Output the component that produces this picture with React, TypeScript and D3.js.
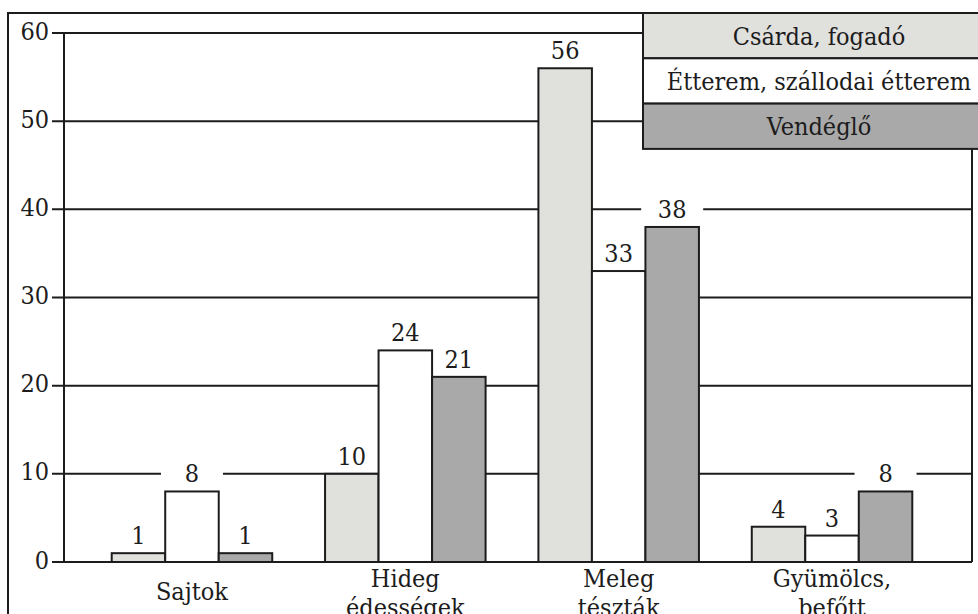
import React from "react";
import * as d3 from "d3";

// Categories (each label may wrap onto two lines)
const categories = ["Sajtok", "Hideg édességek", "Meleg tészták", "Gyümölcs, befőtt"];
const categoryLines = [["Sajtok"], ["Hideg", "édességek"], ["Meleg", "tészták"], ["Gyümölcs,", "befőtt"]];

// Series
const seriesNames = ["Csárda, fogadó", "Étterem, szállodai étterem", "Vendéglő"];
const csardaValues = [1, 10, 56, 4];
const etteremValues = [8, 24, 33, 3];
const vendegloValues = [1, 21, 38, 8];
const seriesColors = ["#e0e0dd", "#ffffff", "#a9a9a9"];

const yTicks = [0, 10, 20, 30, 40, 50, 60];

const W = 978;
const H = 614;
const FONT = "'DejaVu Serif Condensed', 'DejaVu Serif', serif";
const FS = 25;
const INK = "#1c1c1c";

export default function App() {
  const seriesValues = [csardaValues, etteremValues, vendegloValues];

  const plotLeft = 64;
  const plotRight = 972;
  const y = d3.scaleLinear().domain([0, 60]).range([562, 33]);

  const x = d3
    .scaleBand<string>()
    .domain(categories)
    .range([85.3, 938.7])
    .paddingInner(0.2476)
    .paddingOuter(0.1238);

  const xs = d3
    .scaleBand<string>()
    .domain(seriesNames)
    .range([0, x.bandwidth()]);

  const labelGap = 9;
  const boxW = 62;

  const bars: { x: number; w: number; v: number; color: string; key: string }[] = [];
  categories.forEach((c, ci) => {
    seriesNames.forEach((s, si) => {
      bars.push({
        x: (x(c) ?? 0) + (xs(s) ?? 0),
        w: xs.bandwidth(),
        v: seriesValues[si][ci],
        color: seriesColors[si],
        key: `${ci}-${si}`,
      });
    });
  });

  const legendX = 643;
  const legendW = 352;
  const legendTop = 13;
  const rowH = 45.3;

  return (
    <svg
      width={W}
      height={H}
      viewBox={`0 0 ${W} ${H}`}
      style={{ position: "absolute", left: 0, top: 0, background: "#fff", fontFamily: FONT, fontStretch: "condensed" }}
    >
      <rect x={0} y={0} width={W} height={H} fill="#fff" />
      {/* outer frame */}
      <rect x={8} y={13} width={1000} height={700} fill="none" stroke={INK} strokeWidth={2} />

      {/* gridlines and ticks */}
      {yTicks.map((t) => (
        <g key={t}>
          <line x1={52} x2={plotRight} y1={y(t)} y2={y(t)} stroke={INK} strokeWidth={2} />
          <text x={49} y={y(t) + 6.5} textAnchor="end" fontSize={FS} fill={INK}>
            {t}
          </text>
        </g>
      ))}
      <line x1={plotLeft} x2={plotLeft} y1={y(60)} y2={y(0)} stroke={INK} strokeWidth={2} />
      <line x1={plotRight} x2={plotRight} y1={y(60)} y2={y(0)} stroke={INK} strokeWidth={2} />

      {/* white boxes behind the value labels */}
      {bars.map((b) => (
        <rect
          key={`bg-${b.key}`}
          x={b.x + b.w / 2 - boxW / 2}
          y={y(b.v) - labelGap - 22}
          width={boxW}
          height={26}
          fill="#fff"
        />
      ))}

      {/* bars */}
      {bars.map((b) => (
        <rect
          key={`bar-${b.key}`}
          x={b.x}
          y={y(b.v)}
          width={b.w}
          height={y(0) - y(b.v)}
          fill={b.color}
          stroke={INK}
          strokeWidth={2}
        />
      ))}
      <line x1={52} x2={plotRight} y1={y(0)} y2={y(0)} stroke={INK} strokeWidth={2} />

      {/* value labels */}
      {bars.map((b) => (
        <text
          key={`lbl-${b.key}`}
          x={b.x + b.w / 2}
          y={y(b.v) - labelGap}
          textAnchor="middle"
          fontSize={FS}
          fill={INK}
        >
          {b.v}
        </text>
      ))}

      {/* category labels */}
      {categories.map((c, ci) => {
        const cx = (x(c) ?? 0) + x.bandwidth() / 2;
        const lines = categoryLines[ci];
        return (
          <text key={c} textAnchor="middle" fontSize={FS} fill={INK}>
            {lines.map((ln, li) => (
              <tspan key={li} x={cx} y={lines.length === 1 ? 600 : 587 + li * 29}>
                {ln}
              </tspan>
            ))}
          </text>
        );
      })}

      {/* legend */}
      {seriesNames.map((s, si) => (
        <g key={s}>
          <rect
            x={legendX}
            y={legendTop + si * rowH}
            width={legendW}
            height={rowH}
            fill={seriesColors[si]}
            stroke={INK}
            strokeWidth={2}
          />
          <text
            x={legendX + legendW / 2}
            y={legendTop + si * rowH + rowH / 2 + 9}
            textAnchor="middle"
            fontSize={FS}
            fill={INK}
          >
            {s}
          </text>
        </g>
      ))}
    </svg>
  );
}
